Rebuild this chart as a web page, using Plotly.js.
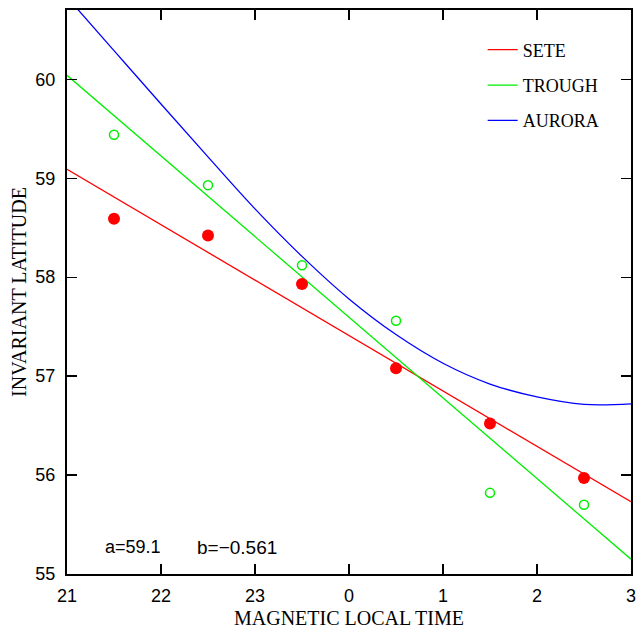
<!DOCTYPE html>
<html>
<head>
<meta charset="utf-8">
<script src="https://cdn.plot.ly/plotly-3.0.1.min.js"></script>
<style>
  html, body { margin: 0; padding: 0; background: #fff; }
  #chart { width: 638px; height: 629px; }
</style>
</head>
<body>
<div id="chart"></div>
<script>
// Magnetic local time positions (21..27 = 21h..3h, wrapping past midnight)
const tickVals = [21, 22, 23, 24, 25, 26, 27];
const tickText = ['21', '22', '23', '0', '1', '2', '3'];

// Observed points
const obsMLT = [21.5, 22.5, 23.5, 24.5, 25.5, 26.5];
const seteLat = [58.59, 58.42, 57.93, 57.08, 56.52, 55.97];
const troughLat = [59.44, 58.93, 58.12, 57.56, 55.82, 55.70];

// Fitted lines (end points)
const fitMLT = [21, 27];
const seteFit = [59.09, 55.73];
const troughFit = [60.04, 55.15];

// Auroral boundary curve (sampled from the figure)
const auroraMLT = [21, 21.5, 22, 22.5, 23, 23.5, 24, 24.5, 25, 25.5, 26, 26.5, 27];
const auroraLat = [60.83, 60.29, 59.75, 59.215, 58.69, 58.21, 57.78, 57.42, 57.13, 56.92, 56.79, 56.715, 56.72];

const RED = '#ff0000', GREEN = '#00ee00', BLUE = '#0000ff';

const traces = [
  { x: fitMLT, y: seteFit, mode: 'lines', name: 'SETE', legendgroup: 'a',
    line: { color: RED, width: 1.3 } },
  { x: fitMLT, y: troughFit, mode: 'lines', name: 'TROUGH', legendgroup: 'b',
    line: { color: GREEN, width: 1.3 } },
  { x: auroraMLT, y: auroraLat, mode: 'lines', name: 'AURORA', legendgroup: 'c',
    line: { color: BLUE, width: 1.3, shape: 'spline', smoothing: 1 } },
  { x: obsMLT, y: seteLat, mode: 'markers', showlegend: false,
    marker: { color: RED, size: 12, symbol: 'circle' } },
  { x: obsMLT, y: troughLat, mode: 'markers', showlegend: false,
    marker: { color: GREEN, size: 9, symbol: 'circle-open', line: { width: 1.5, color: GREEN } } }
];

const axisCommon = {
  showgrid: false, zeroline: false,
  showline: true, linecolor: '#000', linewidth: 2, mirror: 'ticks',
  ticks: 'inside', ticklen: 10, tickwidth: 1.3, tickcolor: '#000',
  tickfont: { family: 'Liberation Sans, Arial, sans-serif', size: 18, color: '#000' }
};

const serif = 'Liberation Serif, Times New Roman, serif';

const layout = {
  width: 638, height: 629,
  margin: { l: 67, r: 7, t: 10, b: 55 },
  paper_bgcolor: '#fff', plot_bgcolor: '#fff',
  showlegend: true,
  legend: {
    x: 0.737, y: 0.962, xanchor: 'left', yanchor: 'top',
    bgcolor: 'rgba(0,0,0,0)', borderwidth: 0,
    tracegroupgap: 9,
    font: { family: serif, size: 18, color: '#000' }
  },
  xaxis: Object.assign({}, axisCommon, {
    range: [21, 27],
    tickmode: 'array', tickvals: tickVals, ticktext: tickText,
    ticklabelstandoff: 4,
    title: { text: 'MAGNETIC LOCAL TIME', standoff: 12,
      font: { family: serif, size: 20, color: '#000' } }
  }),
  yaxis: Object.assign({}, axisCommon, {
    range: [55, 60.7],
    tickmode: 'array', tickvals: [55, 56, 57, 58, 59, 60],
    ticklabelstandoff: 6,
    title: { text: 'INVARIANT LATITUDE', standoff: 3,
      font: { family: serif, size: 20, color: '#000' } }
  }),
  annotations: [
    { x: 21.38, y: 55.27, xref: 'x', yref: 'y', xanchor: 'left', yanchor: 'middle',
      text: 'a=59.1', showarrow: false,
      font: { family: 'Liberation Sans, Arial, sans-serif', size: 18, color: '#000' } },
    { x: 22.36, y: 55.27, xref: 'x', yref: 'y', xanchor: 'left', yanchor: 'middle',
      text: 'b=\u22120.561', showarrow: false,
      font: { family: 'Liberation Sans, Arial, sans-serif', size: 19, color: '#000' } }
  ]
};

Plotly.newPlot('chart', traces, layout, { displayModeBar: false, staticPlot: true });
</script>
</body>
</html>
